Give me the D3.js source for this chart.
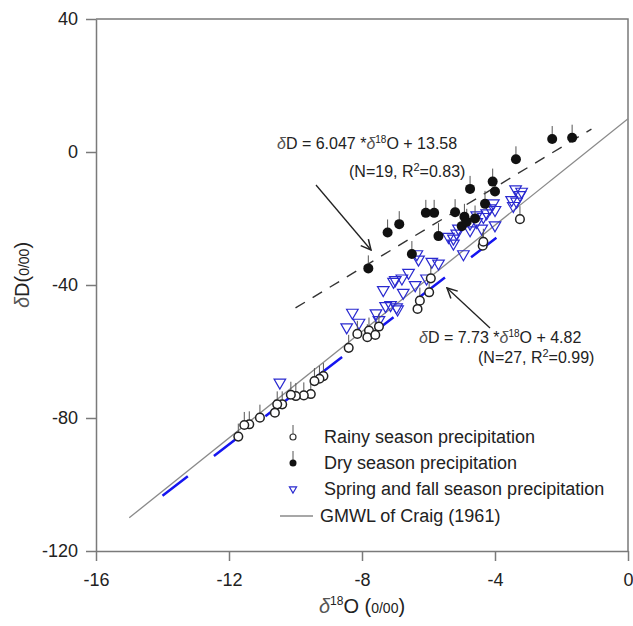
<!DOCTYPE html>
<html>
  <head>
    <meta charset="utf-8">
    <title>dD vs d18O</title>
    <script src="https://d3js.org/d3.v7.min.js"></script>
    <style>
      body { margin: 0; background: #fff; }
      text { font-family: "Liberation Sans", Arial, sans-serif; fill: #222; }
    </style>
  </head>
  <body>
    <script>
      // values: [d18O, dD]
      var rainy = [
        [-3.25,-20.2],[-4.37,-28.2],[-4.35,-27.0],[-5.98,-42.2],[-5.93,-38.0],[-6.26,-44.7],
        [-6.33,-47.2],[-7.49,-52.5],[-7.79,-53.7],[-7.84,-55.7],[-8.14,-54.7],[-8.40,-58.9],
        [-9.16,-67.4],[-9.28,-68.2],[-9.43,-68.9],[-9.54,-72.8],[-9.75,-73.2],[-9.99,-73.4],
        [-10.14,-73.0],[-10.40,-75.9],[-10.55,-75.9],[-10.62,-78.4],[-11.07,-79.9],
        [-11.39,-81.9],[-11.54,-82.1],[-11.72,-85.6],[-7.60,-55.0]
      ];
      var dry = [
        [-2.28,3.9],[-1.68,4.3],[-3.37,-2.2],[-4.07,-8.9],[-4.0,-11.9],[-4.75,-11.1],
        [-4.30,-15.6],[-5.20,-18.1],[-6.08,-18.3],[-5.83,-18.3],[-4.92,-19.5],[-5.0,-22.3],
        [-4.85,-21.0],[-4.60,-20.0],[-5.70,-25.3],[-6.88,-21.7],[-7.23,-24.2],[-6.50,-30.7],
        [-7.81,-35.0]
      ];
      var springFall = [
        [-3.38,-11.2],[-3.2,-11.9],[-3.25,-12.9],[-3.5,-14.4],[-3.35,-14.9],[-3.45,-16.2],
        [-4.05,-15.4],[-4.15,-16.9],[-4.0,-17.4],[-4.25,-18.4],[-4.35,-19.5],[-4.55,-19.0],
        [-4.55,-21.0],[-4.4,-23.0],[-4.75,-23.5],[-4.75,-21.5],[-4.0,-22.0],[-5.1,-23.0],
        [-5.15,-24.5],[-5.25,-26.0],[-5.25,-27.5],[-5.4,-25.5],[-4.95,-30.7],[-6.35,-30.7],
        [-6.3,-32.3],[-5.9,-33.0],[-5.7,-33.5],[-6.6,-36.3],[-6.8,-38.0],[-7.0,-38.5],
        [-7.05,-39.0],[-6.4,-40.0],[-7.36,-41.5],[-6.76,-42.3],[-6.06,-38.0],[-7.29,-46.3],
        [-7.14,-46.0],[-6.96,-46.7],[-6.93,-47.3],[-8.29,-48.3],[-8.09,-51.3],[-8.46,-52.7],
        [-7.58,-48.5],[-7.49,-50.5],[-10.47,-69.3]
      ];
      var gmwl = [[-15,-110],[0,10]];
      var dryFit = [[-10,-46.9],[-1.1,6.9]];
      var rainyFit = [[-14,-103.4],[-3.65,-23.4]];
      var xTicks = [-16,-12,-8,-4,0];
      var yTicks = [-120,-80,-40,0,40];
      var legendLabels = ["Rainy season precipitation","Dry season precipitation",
                          "Spring and fall season precipitation","GMWL of Craig (1961)"];

      var width = 633, height = 626;
      var x = d3.scaleLinear().domain([-16,0]).range([96,628]);
      var y = d3.scaleLinear().domain([-120,40]).range([551,19]);

      var svg = d3.select("body").append("svg")
        .attr("width", width).attr("height", height);

      svg.append("defs").append("marker")
        .attr("id","arr").attr("viewBox","0 0 12 12").attr("refX",11).attr("refY",6)
        .attr("markerWidth",12).attr("markerHeight",12).attr("markerUnits","userSpaceOnUse")
        .attr("orient","auto")
        .append("path").attr("d","M1,1 L11,6 L1,11").attr("fill","none")
        .attr("stroke","#222").attr("stroke-width",1.5);

      // frame top/right
      svg.append("path")
        .attr("d","M"+x(-16)+","+y(40)+"H"+x(0)+"V"+y(-120))
        .attr("fill","none").attr("stroke","#7a7a7a").attr("stroke-width",1.5);

      var plain = function(d){ return String(d); };
      var gx = svg.append("g").attr("transform","translate(0,"+y(-120)+")")
        .call(d3.axisBottom(x).tickValues(xTicks).tickFormat(plain)
          .tickSize(10).tickSizeOuter(0).tickPadding(12));
      var gy = svg.append("g").attr("transform","translate("+x(-16)+",0)")
        .call(d3.axisLeft(y).tickValues(yTicks).tickFormat(plain)
          .tickSize(10).tickSizeOuter(0).tickPadding(8));
      [gx, gy].forEach(function(g){
        g.select(".domain").attr("stroke","#7a7a7a").attr("stroke-width",1.5);
        g.selectAll(".tick line").attr("stroke","#7a7a7a").attr("stroke-width",1.5);
        g.selectAll(".tick text").attr("font-size",18).attr("fill","#222")
          .attr("font-family","Liberation Sans, Arial, sans-serif");
      });

      var line = d3.line().x(function(d){return x(d[0]);}).y(function(d){return y(d[1]);});

      svg.append("path").datum(gmwl).attr("d",line)
        .attr("stroke","#8a8a8a").attr("stroke-width",1.3).attr("fill","none");
      svg.append("path").datum(dryFit).attr("d",line)
        .attr("stroke","#333").attr("stroke-width",1.4).attr("fill","none")
        .attr("stroke-dasharray","11,9");
      svg.append("path").datum(rainyFit).attr("d",line)
        .attr("stroke","#1515f0").attr("stroke-width",2.5).attr("fill","none")
        .attr("stroke-dasharray","32,33");

      var tri = d3.symbol().type(d3.symbolTriangle).size(58);
      svg.append("g").selectAll("path").data(springFall).enter().append("path")
        .attr("d",tri)
        .attr("transform",function(d){return "translate("+x(d[0])+","+y(d[1])+") rotate(180)";})
        .attr("fill","none").attr("stroke","#2a2ad0").attr("stroke-width",1.2);

      // error bars
      svg.append("g").selectAll("line").data(rainy.concat(dry)).enter().append("line")
        .attr("x1",function(d){return x(d[0]);}).attr("x2",function(d){return x(d[0]);})
        .attr("y1",function(d){return y(d[1])-4;}).attr("y2",function(d){return y(d[1])-13;})
        .attr("stroke","#555").attr("stroke-width",1);

      svg.append("g").selectAll("circle").data(rainy).enter().append("circle")
        .attr("cx",function(d){return x(d[0]);}).attr("cy",function(d){return y(d[1]);})
        .attr("r",4.3).attr("fill","#fff").attr("stroke","#222").attr("stroke-width",1.5);
      svg.append("g").selectAll("circle").data(dry).enter().append("circle")
        .attr("cx",function(d){return x(d[0]);}).attr("cy",function(d){return y(d[1]);})
        .attr("r",5).attr("fill","#111");

      // annotations
      function eq(tx, ty, slope, icpt) {
        var t = svg.append("text").attr("x",tx).attr("y",ty).attr("font-size",16);
        t.append("tspan").attr("font-style","italic").attr("fill","#555").text("\u03b4");
        t.append("tspan").text("D = " + slope + " *");
        t.append("tspan").attr("font-style","italic").attr("fill","#555").text("\u03b4");
        t.append("tspan").attr("font-size",10).attr("dy",-6).text("18");
        t.append("tspan").attr("dy",6).text("O + " + icpt);
      }
      function nr(tx, ty, n, r2) {
        var t = svg.append("text").attr("x",tx).attr("y",ty).attr("font-size",16);
        t.append("tspan").text("(N=" + n + ", R");
        t.append("tspan").attr("font-size",11).attr("dy",-6).text("2");
        t.append("tspan").attr("dy",6).text("=" + r2 + ")");
      }
      eq(277,149,"6.047","13.58");
      nr(349,177,"19","0.83");
      eq(419,343,"7.73","4.82");
      nr(478,363,"27","0.99");

      svg.append("line").attr("x1",316).attr("y1",185).attr("x2",371).attr("y2",250)
        .attr("stroke","#222").attr("stroke-width",1.3).attr("marker-end","url(#arr)");
      svg.append("line").attr("x1",490).attr("y1",328).attr("x2",447).attr("y2",288)
        .attr("stroke","#222").attr("stroke-width",1.3).attr("marker-end","url(#arr)");

      // legend
      var lg = svg.append("g");
      var rows = [437,463,489,516];
      lg.append("line").attr("x1",293).attr("x2",293).attr("y1",rows[0]-3).attr("y2",rows[0]-12)
        .attr("stroke","#555");
      lg.append("circle").attr("cx",293).attr("cy",rows[0]).attr("r",3)
        .attr("fill","#fff").attr("stroke","#333").attr("stroke-width",1.2);
      lg.append("line").attr("x1",293).attr("x2",293).attr("y1",rows[1]-3).attr("y2",rows[1]-12)
        .attr("stroke","#555");
      lg.append("circle").attr("cx",293).attr("cy",rows[1]).attr("r",3.5).attr("fill","#111");
      lg.append("path").attr("d",d3.symbol().type(d3.symbolTriangle).size(22)())
        .attr("transform","translate(293,"+rows[2]+") rotate(180)")
        .attr("fill","none").attr("stroke","#2a2ad0").attr("stroke-width",1.2);
      lg.append("line").attr("x1",280).attr("x2",313).attr("y1",rows[3]).attr("y2",rows[3])
        .attr("stroke","#8a8a8a").attr("stroke-width",1.3);
      lg.selectAll("text").data(legendLabels).enter().append("text")
        .attr("x",function(d,i){return i==3 ? 320 : 324;})
        .attr("y",function(d,i){return rows[i]+6;})
        .attr("font-size",18).text(function(d){return d;});

      // axis titles
      var xt = svg.append("text").attr("x",362).attr("y",613).attr("text-anchor","middle")
        .attr("font-size",20);
      xt.append("tspan").attr("font-style","italic").attr("fill","#555").text("\u03b4");
      xt.append("tspan").attr("font-size",12).attr("dy",-8).text("18");
      xt.append("tspan").attr("dy",8).text("O (");
      xt.append("tspan").attr("font-size",14).text("0/00");
      xt.append("tspan").text(")");

      var yt = svg.append("text").attr("transform","translate(29,275) rotate(-90)")
        .attr("text-anchor","middle").attr("font-size",20);
      yt.append("tspan").attr("font-style","italic").attr("fill","#555").text("\u03b4");
      yt.append("tspan").text("D(");
      yt.append("tspan").attr("font-size",14).text("0/00");
      yt.append("tspan").text(")");
    </script>
  </body>
</html>
